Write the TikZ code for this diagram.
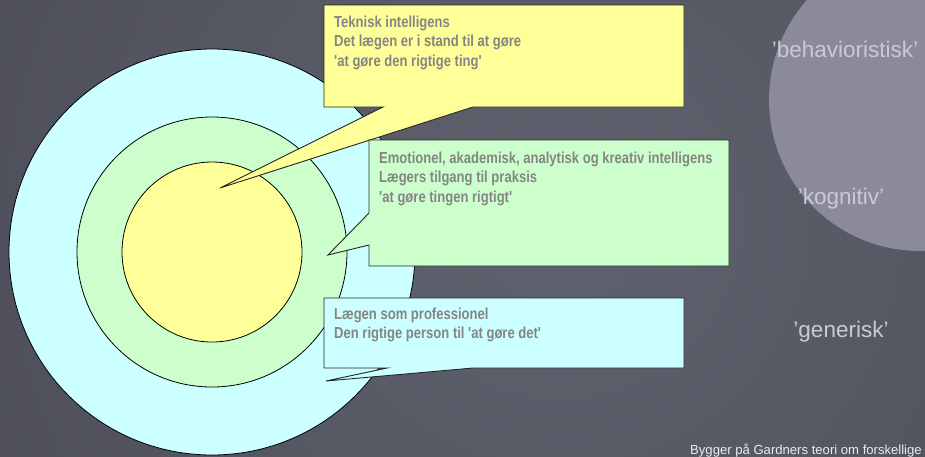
\documentclass[tikz,border=0pt]{standalone}
\usepackage{fontspec}
\setmainfont{Liberation Sans}
\newfontfamily\narrowfont[FakeStretch=0.82]{Liberation Sans}
\definecolor{bgmid}{HTML}{60636F}
\definecolor{bgedge}{HTML}{3A3944}
\definecolor{ringout}{HTML}{CCFFFF}
\definecolor{ringmid}{HTML}{CCFFCC}
\definecolor{ringin}{HTML}{FFFF99}
\definecolor{calltext}{HTML}{858585}
\definecolor{disc}{HTML}{8B8A9A}
\definecolor{sidetext}{HTML}{CACAD2}
\pgfdeclareradialshading{bgglow}{\pgfpoint{0bp}{0bp}}{color(0bp)=(bgmid); color(50bp)=(bgedge)}
\tikzset{
  ring/.style={draw=black, line width=0.8pt},
  callout/.style={draw=black!85, line width=0.9pt},
  calltxt/.style={anchor=north west, inner sep=0pt, align=left, text=calltext,
    font=\narrowfont\bfseries\fontsize{15.9}{19.5}\selectfont},
  sidelabel/.style={anchor=base, inner sep=0pt, text=sidetext, font=\fontsize{22.5}{26}\selectfont},
}
\begin{document}
\begin{tikzpicture}[x=1pt,y=-1pt]
\useasboundingbox (0,0) rectangle (925,456);

% backdrop
\begin{scope}
  \clip (0,0) rectangle (925,456);
  \shade[shading=bgglow] (-70,-400) rectangle (1190,840);
  % grey disc on the right
  \fill[disc] (920,100) circle (151);
\end{scope}

% concentric rings
\coordinate (ctr) at (212,252);
\draw[ring, fill=ringout] (ctr) circle (203);
\draw[ring, fill=ringmid] (ctr) circle (135);
\draw[ring, fill=ringin]  (ctr) circle (90);

% callout: technical intelligence
\coordinate (tipA) at (220,188);
\draw[callout, fill=ringin] (324,5) -- (684,5) -- (684,107) -- (473,107)
  -- (tipA) -- (383,107) -- (324,107) -- cycle;
\node[calltxt] (tekst1) at (334,15.5) {Teknisk intelligens\\Det lægen er i stand til at gøre\\'at gøre den rigtige ting'};

% callout: emotional/academic intelligence
\coordinate (tipB) at (328,255);
\draw[callout, fill=ringmid] (369,140) -- (729,140) -- (729,266) -- (369,266)
  -- (369,245) -- (tipB) -- (369,213) -- cycle;
\node[calltxt] (tekst2) at (379,151.5) {Emotionel, akademisk, analytisk og kreativ intelligens\\Lægers tilgang til praksis\\'at gøre tingen rigtigt'};

% callout: the professional
\coordinate (tipC) at (326,381);
\draw[callout, fill=ringout] (324,298) -- (684,298) -- (684,368) -- (473,368)
  -- (tipC) -- (387,368) -- (324,368) -- cycle;
\node[calltxt] (tekst3) at (334,307.5) {Lægen som professionel\\Den rigtige person til 'at gøre det'};

% labels on the right
\node[sidelabel] (beh) at (845,57) {’behavioristisk’};
\node[sidelabel] (kog) at (841,204) {’kognitiv’};
\node[sidelabel] (gen) at (841,337) {’generisk’};

% source note
\node[anchor=base west, inner sep=0pt, text=white!92!black, font=\fontsize{13.1}{16}\selectfont] (kilde) at (690,454.5) {Bygger på Gardners teori om forskellige};
\end{tikzpicture}
\end{document}
